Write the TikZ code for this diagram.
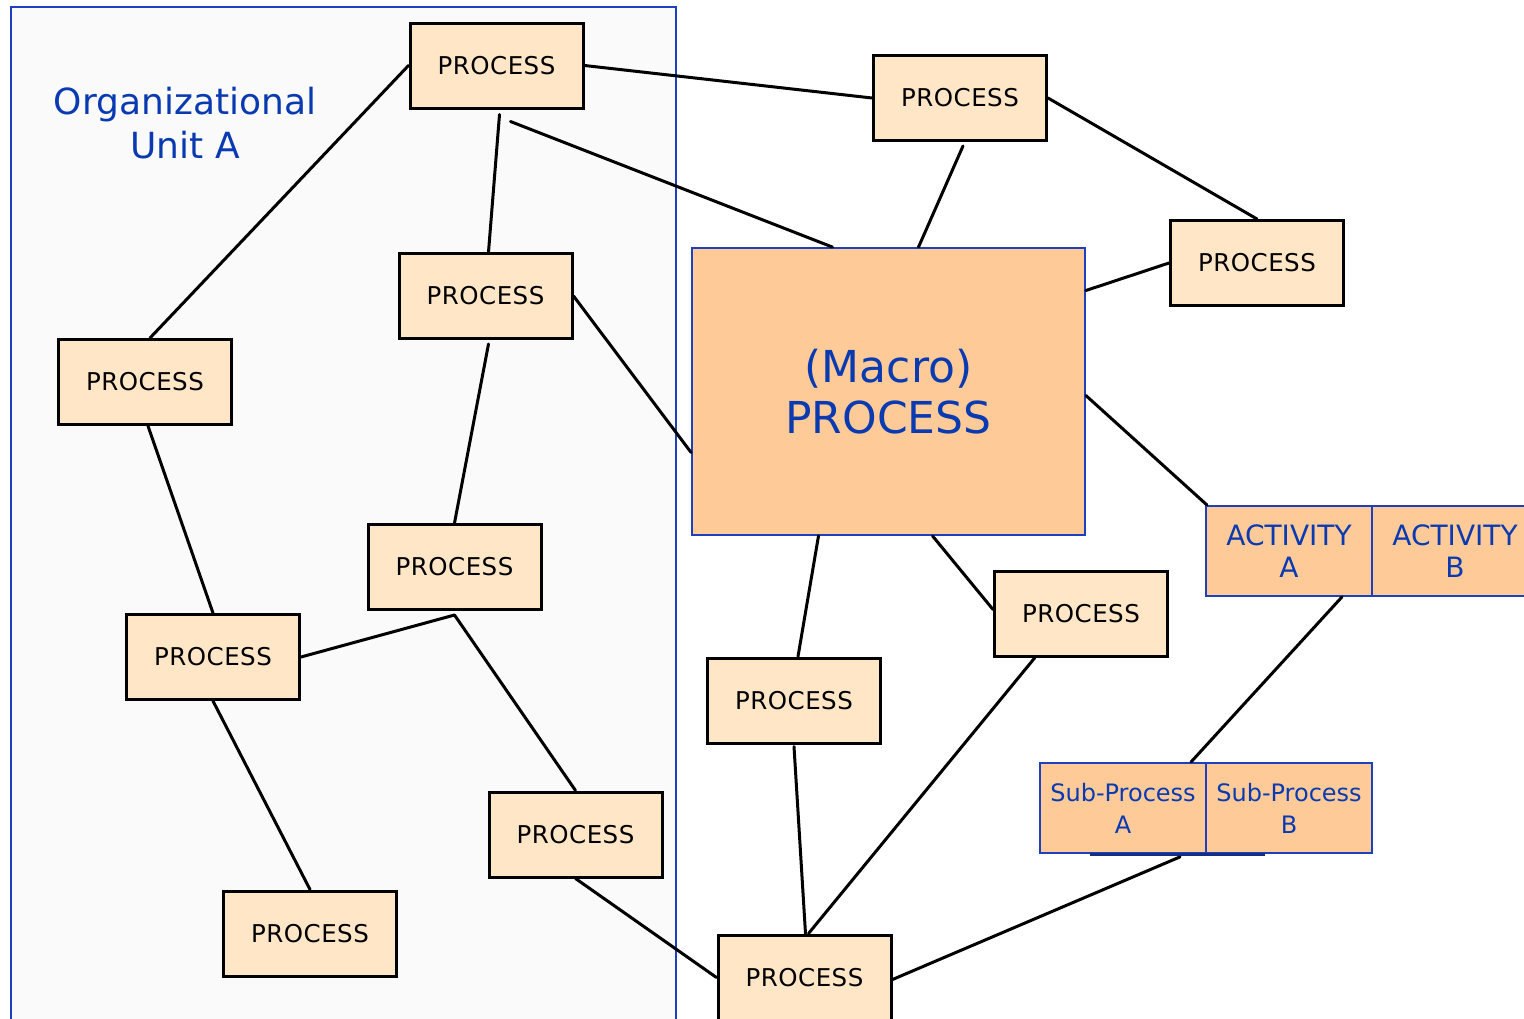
\documentclass[tikz,border=0pt]{standalone}
\usepackage{fontspec}
\setmainfont{DejaVu Sans}
\newfontfamily\procfont[LetterSpace=2]{DejaVu Sans}
\definecolor{procfill}{RGB}{255,230,198}
\definecolor{macrofill}{RGB}{254,203,152}
\definecolor{unitblue}{RGB}{10,58,178}
\definecolor{edgeblue}{RGB}{30,64,190}
\definecolor{unitbg}{RGB}{250,250,250}
\tikzset{
  procbox/.style={draw=black, line width=3pt, fill=procfill, minimum width=173pt,
    minimum height=85pt, inner sep=0pt, font=\procfont\fontsize{24.5}{28}\selectfont},
  bluebox/.style={draw=edgeblue, line width=1.8pt, fill=macrofill, inner sep=0pt,
    align=center, text=unitblue},
  link/.style={draw=black, line width=3pt, line cap=round},
}
\begin{document}
\begin{tikzpicture}[x=1pt, y=-1pt]
\useasboundingbox (0,0) rectangle (1524,1018);
\clip (0,0) rectangle (1524,1018);

% organizational unit frame
\draw[edgeblue, line width=1.5pt, fill=unitbg] (11,7) rectangle (676,1040);
\node[text=unitblue, align=center, font=\fontsize{36}{44}\selectfont] (unit) at (185,123)
  {Organizational\\Unit A};

% process boxes
\node[procbox] (p1)  at (496.5,65.5) {PROCESS};
\node[procbox] (p2)  at (960,98)     {PROCESS};
\node[procbox] (p3)  at (1257,263)   {PROCESS};
\node[procbox] (p4)  at (485.5,296)  {PROCESS};
\node[procbox] (p5)  at (145,382)    {PROCESS};
\node[procbox] (p6)  at (454.5,567)  {PROCESS};
\node[procbox] (p7)  at (213,657)    {PROCESS};
\node[procbox] (p8)  at (575.5,834.5){PROCESS};
\node[procbox] (p9)  at (310,933.5)  {PROCESS};
\node[procbox] (p10) at (1081,613.5) {PROCESS};
\node[procbox] (p11) at (794,700.5)  {PROCESS};
\node[procbox] (p12) at (804.5,977.5) {PROCESS};

% macro process
\node[bluebox, minimum width=393pt, minimum height=287pt,
  font=\fontsize{44}{51}\selectfont] (m) at (888.5,391.5) {(Macro)\\PROCESS};

% activities
\node[bluebox, minimum width=166pt, minimum height=90pt,
  font=\fontsize{28}{32}\selectfont] (actA) at (1289,551) {ACTIVITY\\A};
\node[bluebox, minimum width=166pt, minimum height=90pt,
  font=\fontsize{28}{32}\selectfont] (actB) at (1455,551) {ACTIVITY\\B};

% sub-processes
\node[bluebox, minimum width=166pt, minimum height=90pt,
  font=\fontsize{24}{32}\selectfont] (spA) at (1123,808) {Sub-Process\\A};
\node[bluebox, minimum width=166pt, minimum height=90pt,
  font=\fontsize{24}{32}\selectfont] (spB) at (1289,808) {Sub-Process\\B};
\draw[edgeblue!70!black, line width=3pt] ([xshift=-33pt,yshift=-1pt]spA.south) -- ([xshift=-24pt,yshift=-1pt]spB.south);

% connectors
\draw[link] (p1.west) -- ([xshift=5pt]p5.north);
\draw[link] (p1.east) -- (p2.west);
\draw[link] ([xshift=3pt,yshift=-5pt]p1.south) -- ([xshift=3pt]p4.north);
\draw[link] ([xshift=14pt,yshift=-12pt]p1.south) -- ([xshift=-56pt]m.north);
\draw[link] ([xshift=3pt,yshift=-4pt]p2.south) -- ([xshift=30pt]m.north);
\draw[link] (p2.east) -- (p3.north);
\draw[link] (p3.west) -- ([yshift=101pt]m.east);
\draw[link] (p4.east) -- ([yshift=-61pt]m.west);
\draw[link] ([xshift=3pt,yshift=-4pt]p4.south) -- (p6.north);
\draw[link] ([xshift=3pt]p5.south) -- (p7.north);
\draw[link] (p7.east) -- ([yshift=-4pt]p6.south);
\draw[link] ([yshift=-4pt]p6.south) -- (p8.north);
\draw[link] (p7.south) -- (p9.north);
\draw[link] (p8.south) -- (p12.west);
\draw[link] ([xshift=-70pt]m.south) -- ([xshift=4pt]p11.north);
\draw[link] ([xshift=44pt]m.south) -- ([yshift=4pt]p10.west);
\draw[link] ([yshift=-4pt]m.east) -- ([xshift=2pt]actA.north west);
\draw[link] ([xshift=53pt]actA.south) -- ([xshift=-16pt]spA.north east);
\draw[link] ([yshift=-2pt]p11.south) -- ([xshift=1pt]p12.north);
\draw[link] ([xshift=-46pt]p10.south) -- ([xshift=4pt]p12.north);
\draw[link] ([xshift=57pt,yshift=-3pt]spA.south) -- ([yshift=-2pt]p12.east);
\end{tikzpicture}
\end{document}
